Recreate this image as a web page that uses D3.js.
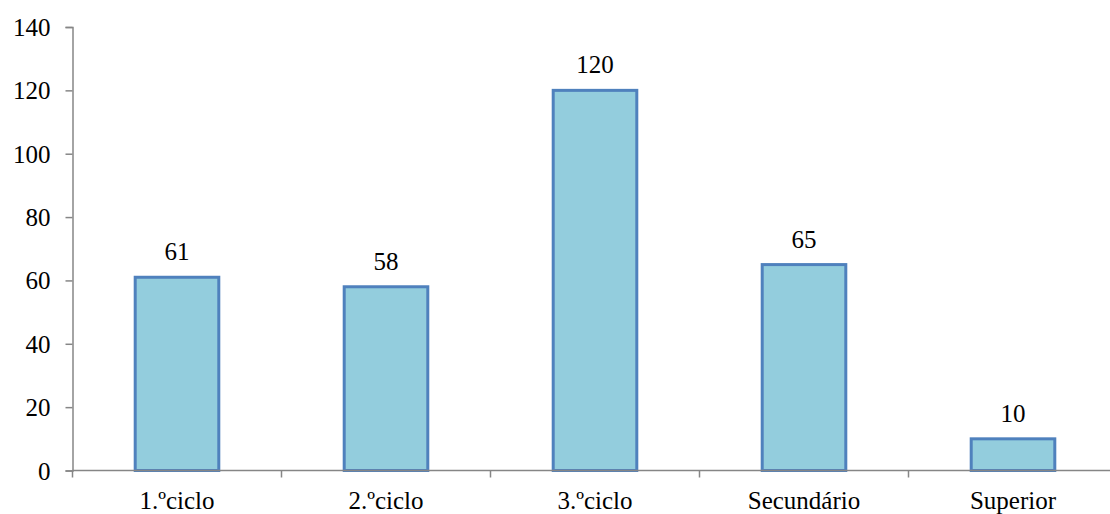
<!DOCTYPE html>
<html>
<head>
<meta charset="utf-8">
<script src="https://cdn.jsdelivr.net/npm/d3@7"></script>
<style>
  html, body { margin: 0; padding: 0; background: #fff; }
  svg { display: block; }
</style>
</head>
<body>
<svg id="chart" width="1110" height="514"></svg>
<script>
// Education level counts
const categories = ["1.ºciclo", "2.ºciclo", "3.ºciclo", "Secundário", "Superior"];
const values = [61, 58, 120, 65, 10];
const yTicks = [0, 20, 40, 60, 80, 100, 120, 140];

// Pick the first installed serif face by comparing measured widths against fallbacks
function pickFont(candidates) {
  const ctx = document.createElement("canvas").getContext("2d");
  const probe = "mmmmmmmmmlliWWW1.ºciclo";
  const widthWith = f => { ctx.font = `72px ${f}`; return ctx.measureText(probe).width; };
  const bases = ["monospace", "sans-serif"].map(widthWith);
  for (const c of candidates) {
    const ok = ["monospace", "sans-serif"].some((b, i) => widthWith(`"${c}", ${b}`) !== bases[i]);
    if (ok) return `"${c}"`;
  }
  return "serif";
}
const serif = pickFont(["Liberation Serif", "Tinos", "Times New Roman", "Times", "DejaVu Serif", "Noto Serif", "FreeSerif"]);

const svg = d3.select("#chart");
const x0 = 72.5, x1 = 1117.5, yTop = 27, yBottom = 470.5;

const x = d3.scaleBand().domain(categories).range([x0, x1]).paddingInner(0.6).paddingOuter(0.3);
const band = d3.scaleBand().domain(categories).range([x0, x1]);
const y = d3.scaleLinear().domain([0, 140]).range([yBottom, yTop]);

const axisColor = "#868686";

// y axis
const yAxis = svg.append("g").attr("transform", `translate(${x0},0)`)
  .call(d3.axisLeft(y).tickValues(yTicks).tickSize(7).tickPadding(15).tickFormat(d3.format("d")));
yAxis.attr("font-family", serif).attr("font-size", 25);
yAxis.select(".domain").attr("stroke", axisColor).attr("stroke-width", 1.5);
yAxis.selectAll(".tick line").attr("stroke", axisColor).attr("stroke-width", 1.5);
yAxis.selectAll(".tick text").attr("fill", "#000").attr("dy", "0.34em");

// bars
svg.append("g").selectAll("rect").data(values).join("rect")
  .attr("x", (d, i) => x(categories[i]))
  .attr("y", d => y(d))
  .attr("width", x.bandwidth())
  .attr("height", d => y(0) - y(d))
  .attr("fill", "#93CDDD")
  .attr("stroke", "#4F81BD")
  .attr("stroke-width", 3);

// x axis line and category separators
const xAxisG = svg.append("g");
xAxisG.append("line").attr("x1", x0).attr("x2", x1).attr("y1", yBottom).attr("y2", yBottom)
  .attr("stroke", axisColor).attr("stroke-width", 1.5);
const bounds = categories.map(c => band(c)).concat([x1]);
xAxisG.selectAll("line.sep").data(bounds).join("line").attr("class", "sep")
  .attr("x1", d => d).attr("x2", d => d).attr("y1", yBottom).attr("y2", yBottom + 7)
  .attr("stroke", axisColor).attr("stroke-width", 1.5);

// category labels
svg.append("g").attr("font-family", serif).attr("font-size", 25)
  .selectAll("text").data(categories).join("text")
  .attr("x", d => band(d) + band.bandwidth() / 2)
  .attr("y", 509)
  .attr("text-anchor", "middle")
  .text(d => d);

// value labels
svg.append("g").attr("font-family", serif).attr("font-size", 25)
  .selectAll("text").data(values).join("text")
  .attr("x", (d, i) => x(categories[i]) + x.bandwidth() / 2)
  .attr("y", d => y(d) - 17)
  .attr("text-anchor", "middle")
  .text(d => d);
</script>
</body>
</html>
